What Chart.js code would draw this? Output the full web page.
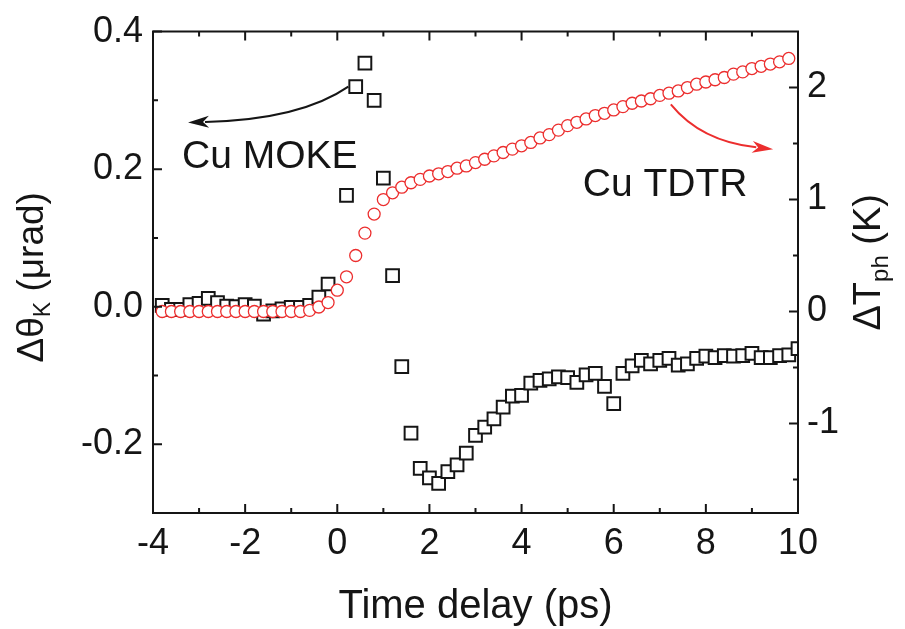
<!DOCTYPE html>
<html><head><meta charset="utf-8">
<script src="https://cdn.jsdelivr.net/npm/chart.js@4/dist/chart.umd.min.js"></script>
<style>html,body{margin:0;padding:0;background:#fff;}</style>
</head><body>
<canvas id="c" width="905" height="629"></canvas>
<script>
// ---- data ----
const mokeTime = [-3.8,-3.6,-3.4,-3.2,-3.0,-2.8,-2.6,-2.4,-2.2,-2.0,-1.8,-1.6,-1.4,-1.2,-1.0,-0.8,-0.6,-0.4,-0.2,
  0.2,0.4,0.6,0.8,1.0,1.2,1.4,1.6,1.8,2.0,2.2,2.4,2.6,2.8,3.0,3.2,3.4,3.6,3.8,4.0,4.2,4.4,4.6,4.8,5.0,
  5.2,5.4,5.6,5.8,6.0,6.2,6.4,6.6,6.8,7.0,7.2,7.4,7.6,7.8,8.0,8.2,8.4,8.6,8.8,9.0,9.2,9.4,9.6,9.8,10.0];
const mokeSignal = [0.002,-0.004,-0.004,0.003,0.005,0.012,0.006,0.001,0.000,0.003,0.001,-0.011,-0.006,-0.003,-0.001,-0.001,0.002,0.014,0.033,
  0.162,0.320,0.354,0.300,0.187,0.045,-0.087,-0.184,-0.235,-0.249,-0.257,-0.240,-0.230,-0.213,-0.187,-0.175,-0.163,-0.146,-0.130,-0.129,-0.111,-0.107,-0.105,-0.102,-0.103,
  -0.110,-0.099,-0.097,-0.116,-0.141,-0.097,-0.086,-0.078,-0.083,-0.078,-0.075,-0.085,-0.083,-0.075,-0.072,-0.074,-0.071,-0.072,-0.071,-0.068,-0.074,-0.074,-0.071,-0.070,-0.061];
const tdtrTime = [-3.8,-3.6,-3.4,-3.2,-3.0,-2.8,-2.6,-2.4,-2.2,-2.0,-1.8,-1.6,-1.4,-1.2,-1.0,
  -0.8,-0.6,-0.4,-0.2,0.0,0.2,0.4,0.6,0.8,1.0,1.2,1.4,1.6,1.8,2.0,2.2,2.4,2.6,2.8,3.0,3.2,3.4,3.6,3.8,
  4.0,4.2,4.4,4.6,4.8,5.0,5.2,5.4,5.6,5.8,6.0,6.2,6.4,6.6,6.8,7.0,7.2,7.4,7.6,7.8,8.0,8.2,8.4,8.6,8.8,9.0,9.2,9.4,9.6,9.8];
const tdtrTemp = [0,0,0,0,0,0,0,0,0,0,0,0,0,0,0,
  0.00,0.01,0.04,0.08,0.19,0.31,0.50,0.70,0.87,1.00,1.06,1.11,1.15,1.18,1.21,1.23,1.25,1.28,1.30,1.33,1.36,1.39,1.42,1.45,
  1.48,1.51,1.55,1.58,1.62,1.66,1.69,1.72,1.75,1.77,1.80,1.83,1.86,1.88,1.90,1.93,1.95,1.97,2.00,2.03,2.05,2.07,2.09,2.12,2.14,2.17,2.19,2.21,2.23,2.26];

const xTicks = [-4,-2,0,2,4,6,8,10];
const xMinorTicks = [-3,-1,1,3,5,7,9];
const leftTicks = [-0.2,0.0,0.2,0.4];
const leftMinorTicks = [-0.3,-0.1,0.1,0.3];
const rightTicks = [-1,0,1,2];
const rightMinorTicks = [-1.5,-0.5,0.5,1.5];

const xTitle = 'Time delay (ps)';
const leftTitle = [['Δθ',false],['K',true],[' (μrad)',false]];
const rightTitle = [['ΔT',false],['ph',true],[' (K)',false]];
const mokeLabel = 'Cu MOKE';
const tdtrLabel = 'Cu TDTR';
// annotation anchors in data units (left axis for MOKE, right axis for TDTR)
const mokeLabelAt = [-3.37, 0.2015];
const mokeArrow = [[0.24,0.320],[-0.80,0.272],[-3.24,0.268]];
const tdtrLabelAt = [5.33, 1.03];
const tdtrArrow = [[7.24,1.85],[7.89,1.52],[9.46,1.45]];

const FONT = "'Liberation Sans', Arial, sans-serif";
const RED = '#ec2e2e';
const INK = '#151515';

const decor = {
  id: 'decor',
  afterDraw(chart) {
    const ctx = chart.ctx;
    const a = chart.chartArea;
    const xs = chart.scales.x, ys = chart.scales.y, ys2 = chart.scales.y2;
    ctx.save();
    ctx.globalAlpha = 1;
    ctx.setLineDash([]);
    ctx.strokeStyle = '#151515';
    ctx.lineWidth = 2;
    ctx.beginPath();
    ctx.moveTo(a.left, a.top); ctx.lineTo(a.right, a.top); ctx.lineTo(a.right, a.bottom);
    ctx.lineTo(a.left, a.bottom); ctx.closePath();
    ctx.stroke();
    const MAJ = 9, MIN = 5;
    ctx.beginPath();
    const seg = (p1, q1, p2, q2) => { ctx.moveTo(p1, q1); ctx.lineTo(p2, q2); };
    xTicks.forEach(v => { const p = xs.getPixelForValue(v); seg(p, a.bottom, p, a.bottom - MAJ); seg(p, a.top, p, a.top + MAJ); });
    xMinorTicks.forEach(v => { const p = xs.getPixelForValue(v); seg(p, a.bottom, p, a.bottom - MIN); seg(p, a.top, p, a.top + MIN); });
    leftTicks.forEach(v => { const p = ys.getPixelForValue(v); seg(a.left, p, a.left + MAJ, p); });
    leftMinorTicks.forEach(v => { const p = ys.getPixelForValue(v); seg(a.left, p, a.left + MIN, p); });
    rightTicks.forEach(v => { const p = ys2.getPixelForValue(v); seg(a.right, p, a.right - MAJ, p); });
    rightMinorTicks.forEach(v => { const p = ys2.getPixelForValue(v); seg(a.right, p, a.right - MIN, p); });
    ctx.stroke();

    // axis titles
    ctx.fillStyle = INK;
    ctx.font = '40px ' + FONT; ctx.textAlign = 'center'; ctx.textBaseline = 'alphabetic';
    ctx.fillText(xTitle, (a.left + a.right) / 2, a.bottom + 105);

    const rotTitle = (parts, cx, cy, size) => {
      ctx.save(); ctx.translate(cx, cy); ctx.rotate(-Math.PI / 2);
      ctx.textAlign = 'left'; ctx.textBaseline = 'alphabetic';
      const fnt = s => (s ? Math.round(size * 0.62) : size) + 'px ' + FONT;
      let total = 0;
      parts.forEach(([t, s]) => { ctx.font = fnt(s); total += ctx.measureText(t).width; });
      let pos = -total / 2;
      parts.forEach(([t, s]) => { ctx.font = fnt(s); ctx.fillText(t, pos, s ? size * 0.2 : 0); pos += ctx.measureText(t).width; });
      ctx.restore();
    };
    rotTitle(leftTitle, a.left - 110, (a.top + a.bottom) / 2 + 5, 37);
    rotTitle(rightTitle, a.right + 82, (a.top + a.bottom) / 2 - 10, 38);

    // annotations
    const arrow = (pts, sx, sy, color) => {
      const P = pts.map(([u, v]) => [sx.getPixelForValue(u), sy.getPixelForValue(v)]);
      ctx.strokeStyle = color; ctx.fillStyle = color; ctx.lineWidth = 2;
      const ang = Math.atan2(P[2][1] - P[1][1], P[2][0] - P[1][0]);
      const L = 21, W = 6;
      const bx = P[2][0] - Math.cos(ang) * (L - 4), by = P[2][1] - Math.sin(ang) * (L - 4);
      ctx.beginPath(); ctx.moveTo(P[0][0], P[0][1]);
      ctx.quadraticCurveTo(P[1][0], P[1][1], bx, by); ctx.stroke();
      ctx.beginPath();
      ctx.moveTo(P[2][0], P[2][1]);
      ctx.lineTo(P[2][0] - Math.cos(ang) * L - Math.sin(ang) * W, P[2][1] - Math.sin(ang) * L + Math.cos(ang) * W);
      ctx.lineTo(P[2][0] - Math.cos(ang) * (L - 6), P[2][1] - Math.sin(ang) * (L - 6));
      ctx.lineTo(P[2][0] - Math.cos(ang) * L + Math.sin(ang) * W, P[2][1] - Math.sin(ang) * L - Math.cos(ang) * W);
      ctx.closePath(); ctx.fill();
    };
    arrow(mokeArrow, xs, ys, INK);
    arrow(tdtrArrow, xs, ys2, RED);
    ctx.fillStyle = INK; ctx.font = '39px ' + FONT; ctx.textAlign = 'left'; ctx.textBaseline = 'alphabetic';
    ctx.fillText(mokeLabel, xs.getPixelForValue(mokeLabelAt[0]), ys.getPixelForValue(mokeLabelAt[1]));
    ctx.fillText(tdtrLabel, xs.getPixelForValue(tdtrLabelAt[0]), ys2.getPixelForValue(tdtrLabelAt[1]));
    ctx.restore();
  }
};

const tickFont = {family: FONT, size: 36};
new Chart(document.getElementById('c'), {
  type: 'scatter',
  data: {
    datasets: [
      { label: 'Cu TDTR', yAxisID: 'y2', order: 0,
        data: tdtrTime.map((t, i) => ({x: t, y: tdtrTemp[i]})),
        pointStyle: 'circle', pointRadius: 6, pointBorderWidth: 1.3,
        pointBorderColor: RED, pointBackgroundColor: '#fff', showLine: false },
      { label: 'Cu MOKE', yAxisID: 'y', order: 1,
        data: mokeTime.map((t, i) => ({x: t, y: mokeSignal[i]})),
        pointStyle: 'rect', pointRadius: 9, pointBorderWidth: 2,
        pointBorderColor: INK, pointBackgroundColor: '#fff', showLine: false }
    ]
  },
  options: {
    responsive: false, animation: false,
    layout: {padding: {top: 30, left: 0, right: 0, bottom: 0}},
    plugins: {legend: {display: false}, tooltip: {enabled: false}},
    scales: {
      x: { type: 'linear', min: -4, max: 10,
        afterBuildTicks: s => { s.ticks = xTicks.map(v => ({value: v})); },
        afterFit: s => { s.height = 116; },
        grid: {display: false, drawTicks: false}, border: {display: false},
        ticks: {padding: 9, font: tickFont, color: INK, maxRotation: 0, autoSkip: false, callback: v => String(v)} },
      y: { position: 'left', min: -0.3, max: 0.4,
        afterBuildTicks: s => { s.ticks = leftTicks.map(v => ({value: v})); },
        afterFit: s => { s.width = 153; },
        grid: {display: false, drawTicks: false}, border: {display: false},
        ticks: {padding: 10, font: tickFont, color: INK, callback: v => Number(v).toFixed(1)} },
      y2: { position: 'right', min: -1.8, max: 2.5,
        afterBuildTicks: s => { s.ticks = rightTicks.map(v => ({value: v})); },
        afterFit: s => { s.width = 107; },
        grid: {display: false, drawTicks: false}, border: {display: false},
        ticks: {padding: 9, font: tickFont, color: INK, callback: v => String(v)} }
    }
  },
  plugins: [decor]
});
</script>
</body></html>
